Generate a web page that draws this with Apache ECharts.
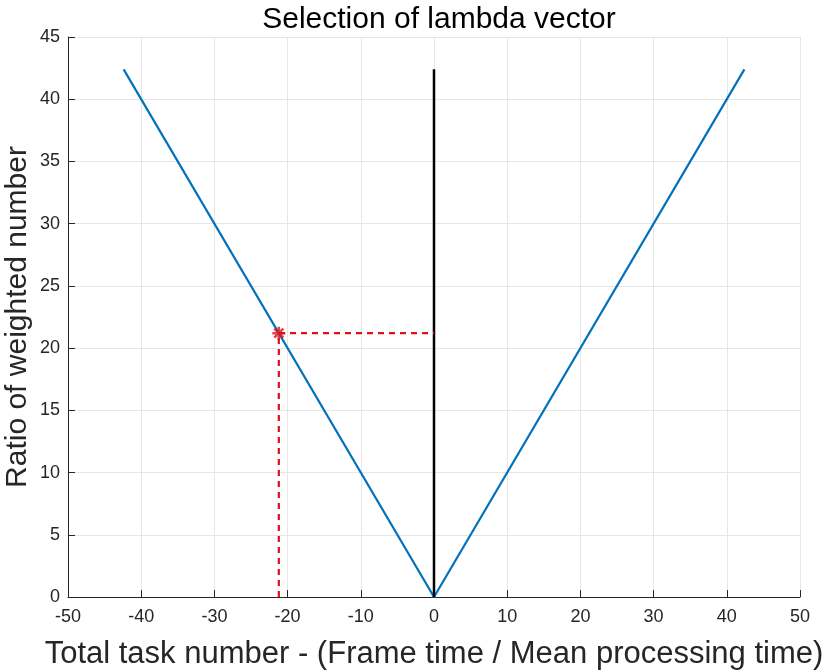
<!DOCTYPE html>
<html><head><meta charset="utf-8">
<script src="https://cdn.jsdelivr.net/npm/echarts@6/dist/echarts.min.js"></script>
<style>html,body{margin:0;padding:0;background:#fff}#c{width:827px;height:672px}</style>
</head><body><div id="c"></div>
<script>
const titleText = 'Selection of lambda vector';
const xName = 'Total task number - (Frame time / Mean processing time)';
const yName = 'Ratio of weighted number';
const vLine = [[-42.4, 42.4], [0, 0], [42.4, 42.4]];
const zeroLine = [[0, 0], [0, 42.4]];
const selX = -21.2, selY = 21.2;
const dashPath = [[selX, 0], [selX, selY], [0, selY]];
const selPoint = [[selX, selY]];

const chart = echarts.init(document.getElementById('c'));
const font = 'Liberation Sans, Arial, sans-serif';
const star = 'path://M0,-10L0,10M-10,0L10,0M-7,-7L7,7M-7,7L7,-7';
chart.setOption({
  animation: false,
  title: {text: titleText, left: 434, top: 0, textAlign: 'center',
    textStyle: {fontFamily: font, fontSize: 30, fontWeight: 'normal', color: '#000'}},
  grid: {left: 68, right: 27, top: 37, bottom: 75, containLabel: false, outerBoundsMode: 'none'},
  xAxis: {type: 'value', min: -50, max: 50, interval: 10,
    name: xName, nameLocation: 'middle', nameGap: 42, nameMoveOverlap: false,
    nameTextStyle: {fontFamily: font, fontSize: 31, color: '#262626'},
    axisLine: {show: true, onZero: false, lineStyle: {color: '#262626', width: 1}},
    axisTick: {show: true, inside: true, length: 7, lineStyle: {color: '#262626'}},
    axisLabel: {fontFamily: font, fontSize: 18, color: '#262626', margin: 11},
    splitLine: {show: true, lineStyle: {color: '#e6e6e6', width: 1}}},
  yAxis: {type: 'value', min: 0, max: 45, interval: 5,
    name: yName, nameLocation: 'middle', nameGap: 35, nameRotate: 90, nameMoveOverlap: false,
    nameTextStyle: {fontFamily: font, fontSize: 30, color: '#262626'},
    axisLine: {show: true, onZero: false, lineStyle: {color: '#262626', width: 1}},
    axisTick: {show: true, inside: true, length: 7, lineStyle: {color: '#262626'}},
    axisLabel: {fontFamily: font, fontSize: 18, color: '#262626', margin: 8},
    splitLine: {show: true, lineStyle: {color: '#e6e6e6', width: 1}}},
  series: [
    {type: 'line', data: vLine, symbol: 'none', lineStyle: {color: '#0072BD', width: 2.2}, z: 3},
    {type: 'line', data: zeroLine, symbol: 'none', lineStyle: {color: '#000', width: 2.5}, z: 4},
    {type: 'line', data: dashPath, symbol: 'none', lineStyle: {color: '#e0101c', width: 2.2, type: [6, 5]}, z: 5},
    {type: 'scatter', data: selPoint, symbol: star, symbolSize: 13,
      itemStyle: {color: 'none', borderColor: '#e0101c', borderWidth: 2.5}, z: 6}
  ]
});
</script></body></html>
